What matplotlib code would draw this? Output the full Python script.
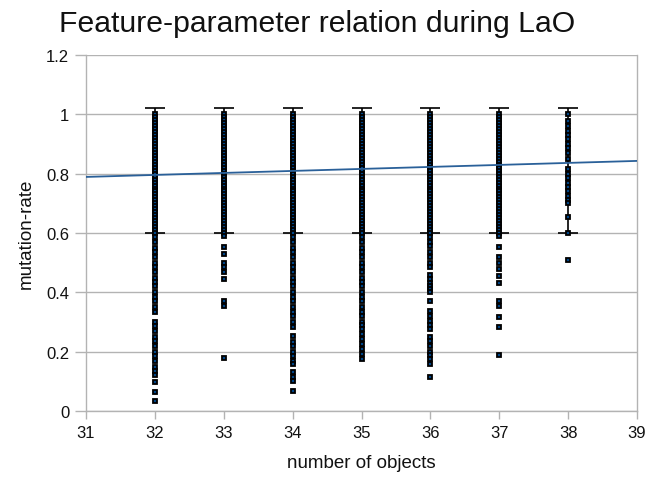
import numpy as np
import matplotlib
matplotlib.use("Agg")
import matplotlib.pyplot as plt

plt.rcParams['font.family'] = ['Liberation Sans', 'DejaVu Sans']

# points, one list per "number of objects" column
# the 0.6..1.0 band is packed solid in every column
upper_band = [1.00, 0.99, 0.98, 0.97, 0.96, 0.95, 0.94, 0.93, 0.92, 0.91,
              0.90, 0.89, 0.88, 0.87, 0.86, 0.85, 0.84, 0.83, 0.82, 0.81,
              0.80, 0.79, 0.78, 0.77, 0.76, 0.75, 0.74, 0.73, 0.72, 0.71,
              0.70, 0.69, 0.68, 0.67, 0.66, 0.65, 0.64, 0.63, 0.62, 0.61, 0.60]

low32 = [0.585, 0.57, 0.55, 0.535, 0.52, 0.50, 0.485, 0.47, 0.45, 0.435,
         0.42, 0.40, 0.385, 0.37, 0.35, 0.335, 0.30, 0.285, 0.27, 0.25,
         0.235, 0.22, 0.20, 0.185, 0.17, 0.15, 0.135, 0.12, 0.098, 0.064, 0.034]
low33 = [0.59, 0.553, 0.529, 0.50, 0.485, 0.47, 0.445, 0.37, 0.355, 0.18]
low34 = [0.585, 0.57, 0.55, 0.535, 0.52, 0.50, 0.485, 0.47, 0.45, 0.435, 0.42,
         0.40, 0.385, 0.37, 0.35, 0.335, 0.32, 0.30, 0.283, 0.253, 0.232,
         0.22, 0.20, 0.185, 0.17, 0.158, 0.13, 0.115, 0.10, 0.067]
low35 = [0.585, 0.57, 0.55, 0.535, 0.52, 0.50, 0.485, 0.47, 0.45, 0.435,
         0.42, 0.40, 0.385, 0.37, 0.35, 0.335, 0.32, 0.30, 0.29, 0.276,
         0.26, 0.243, 0.226, 0.209, 0.192, 0.175]
low36 = [0.585, 0.57, 0.555, 0.537, 0.52, 0.50, 0.485, 0.46, 0.445, 0.43,
         0.42, 0.41, 0.40, 0.37, 0.337, 0.32, 0.305, 0.29, 0.276, 0.25,
         0.235, 0.22, 0.20, 0.19, 0.175, 0.158, 0.115]
low37 = [0.59, 0.553, 0.52, 0.50, 0.48, 0.455, 0.43, 0.37, 0.355, 0.317,
         0.283, 0.19]
col38 = [1.00, 0.977, 0.96, 0.945, 0.93, 0.917, 0.90, 0.885, 0.87, 0.85,
         0.816, 0.80, 0.785, 0.77, 0.755, 0.74, 0.725, 0.71, 0.70, 0.654,
         0.60, 0.509]

columns = {
    32: upper_band + low32,
    33: upper_band + low33,
    34: upper_band + low34,
    35: upper_band + low35,
    36: upper_band + low36,
    37: upper_band + low37,
    38: col38,
}

# error bar range per column
err_x = [32, 33, 34, 35, 36, 37, 38]
err_lo = [0.60, 0.60, 0.60, 0.60, 0.60, 0.60, 0.60]
err_hi = [1.02, 1.02, 1.02, 1.02, 1.02, 1.02, 1.02]

# linear trend line end points
trend_x = [31, 39]
trend_y = [0.789, 0.843]

grid_c = '#b3b3b3'
text_c = '#111111'

fig = plt.figure(figsize=(6.45, 4.85), dpi=100)
ax = fig.add_axes([86/645, 1 - 412/485, (637 - 86)/645, (412 - 56)/485])

lo = np.array(err_lo)
hi = np.array(err_hi)
mid = (lo + hi) / 2
ax.errorbar(err_x, mid, yerr=[mid - lo, hi - mid], fmt='none', ecolor='black',
            elinewidth=1.2, capsize=7, capthick=1.2, zorder=3)

for x, ys in columns.items():
    ax.plot([x] * len(ys), ys, linestyle='none', marker='s', markersize=2.6,
            markerfacecolor='#004586', markeredgecolor='black',
            markeredgewidth=1.3, zorder=4)

ax.plot(trend_x, trend_y, color='#2a6099', linewidth=1.3, zorder=5)

ax.set_xlim(31, 39)
ax.set_ylim(0, 1.2)
ax.set_xticks(range(31, 40))
ax.set_yticks([0, 0.2, 0.4, 0.6, 0.8, 1.0, 1.2])
ax.set_yticklabels(['0', '0.2', '0.4', '0.6', '0.8', '1', '1.2'])
ax.yaxis.grid(True, color=grid_c, linewidth=1)
ax.set_axisbelow(True)

for side in ['left', 'right', 'bottom']:
    ax.spines[side].set_color(grid_c)
    ax.spines[side].set_linewidth(1)
ax.spines['top'].set_visible(False)
ax.tick_params(axis='both', colors=grid_c, labelcolor=text_c, labelsize=12,
               width=1)
ax.tick_params(axis='y', length=8, pad=4)
ax.tick_params(axis='x', length=6, pad=4)

ax.set_xlabel('number of objects', fontsize=13.5, color=text_c, labelpad=10)
ax.set_ylabel('mutation-rate', fontsize=13.5, color=text_c, labelpad=8)
fig.text(0.491, 0.935, 'Feature-parameter relation during LaO', fontsize=21.7,
         ha='center', va='baseline', color=text_c)

fig.savefig('out.png', dpi=100)
